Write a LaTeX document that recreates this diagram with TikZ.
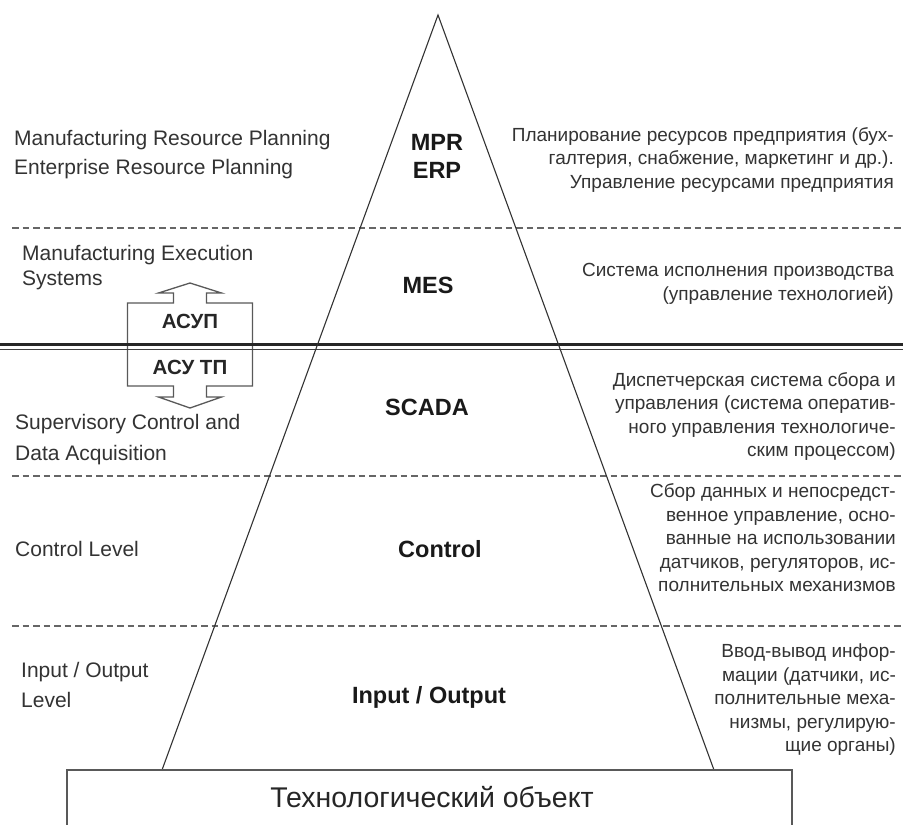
\documentclass[tikz,border=0pt]{standalone}
\usepackage{fontspec}
\setmainfont{Liberation Sans}
\begin{document}
\begin{tikzpicture}[x=1pt,y=-1pt,
  lefttxt/.style={anchor=west, align=left, inner sep=0pt, text=black!80, font=\fontsize{21}{29}\selectfont},
  righttxt/.style={anchor=east, align=right, inner sep=0pt, text=black!80, font=\fontsize{19}{23.5}\selectfont},
  lvl/.style={align=center, inner sep=0pt, text=black!90, font=\fontsize{23.5}{28}\selectfont\bfseries},
  levelsep/.style={draw=black!60, line width=1.5pt, dash pattern=on 6.5pt off 4pt},
  edgeline/.style={draw=black!80, line width=1.1pt},
  asubox/.style={draw=black!65, line width=1.3pt, fill=white},
  asutxt/.style={inner sep=0pt, text=black!85, font=\fontsize{20.5}{22}\selectfont\bfseries},
  objbox/.style={draw=black!65, line width=1.3pt},
  objtxt/.style={inner sep=0pt, text=black!85, font=\fontsize{28.5}{30}\selectfont}
]
\useasboundingbox (0,0) rectangle (903,825);
\clip (0,0) rectangle (903,825);
\fill[white] (0,0) rectangle (903,825);

% level separators
\coordinate (s1l) at (12,228);  \coordinate (s1r) at (903,228);
\coordinate (s3l) at (12,476);  \coordinate (s3r) at (903,476);
\coordinate (s4l) at (12,626);  \coordinate (s4r) at (903,626);
\draw[levelsep] (s1l) -- (s1r);
\draw[levelsep] (s3l) -- (s3r);
\draw[levelsep] (s4l) -- (s4r);

% ASU block arrow
\draw[asubox] (190,283) -- (221.5,293) -- (206.5,293) -- (206.5,303) -- (252.5,303)
  -- (252.5,386) -- (206.5,386) -- (206.5,397) -- (221.5,397) -- (190,408)
  -- (158.5,397) -- (173.5,397) -- (173.5,386) -- (127.5,386) -- (127.5,303)
  -- (173.5,303) -- (173.5,293) -- (158.5,293) -- cycle;
\node[asutxt] (asup) at (190,321) {АСУП};
\node[asutxt] (asutp) at (190,367) {АСУ ТП};

% double separator (ASUP / ASU TP)
\coordinate (d1l) at (0,344);  \coordinate (d1r) at (903,344);
\coordinate (d2l) at (0,349.5);  \coordinate (d2r) at (903,349.5);
\draw[black!85, line width=3pt] (d1l) -- (d1r);
\draw[black!75, line width=1.6pt] (d2l) -- (d2r);

% pyramid
\coordinate (apex) at (438,15);
\coordinate (bl) at (162,770);
\coordinate (br) at (714,770);
\draw[edgeline] (bl) -- (apex) -- (br);

% technological object
\coordinate (o1) at (67,770);
\coordinate (o2) at (792,845);
\draw[objbox, fill=white] (o1) rectangle (o2);
\node[objtxt] (obj) at (432,797) {Технологический объект};

% level names inside pyramid
\node[lvl] (mrp) at (437,156) {MPR\\ERP};
\node[lvl] (mes) at (428,285) {MES};
\node[lvl] (scada) at (427,407) {SCADA};
\node[lvl] (ctrl) at (440,549) {Control};
\node[lvl] (io) at (429,697) {Input / Output};

% left descriptions
\node[lefttxt] (lmrp) at (14,155) {Manufacturing Resource Planning\\Enterprise Resource Planning};
\node[lefttxt, font=\fontsize{21}{25}\selectfont] (lmes) at (22,268) {Manufacturing Execution\\Systems};
\node[lefttxt, font=\fontsize{21}{31}\selectfont] (lscada) at (15,440) {Supervisory Control and\\Data Acquisition};
\node[lefttxt] (lctrl) at (15,549) {Control Level};
\node[lefttxt, font=\fontsize{21}{30}\selectfont] (lio) at (21,685) {Input / Output\\Level};

% right descriptions
\node[righttxt] (rmrp) at (894,160) {Планирование ресурсов предприятия (бух-\\галтерия, снабжение, маркетинг и др.).\\Управление ресурсами предприятия};
\node[righttxt] (rmes) at (894,284) {Система исполнения производства\\(управление технологией)};
\node[righttxt] (rscada) at (896,416.5) {Диспетчерская система сбора и\\управления (система оператив-\\ного управления технологиче-\\ским процессом)};
\node[righttxt] (rctrl) at (896,538) {Сбор данных и непосредст-\\венное управление, осно-\\ванные на использовании\\датчиков, регуляторов, ис-\\полнительных механизмов};
\node[righttxt] (rio) at (896,700) {Ввод-вывод инфор-\\мации (датчики, ис-\\полнительные меха-\\низмы, регулирую-\\щие органы)};
\end{tikzpicture}
\end{document}
